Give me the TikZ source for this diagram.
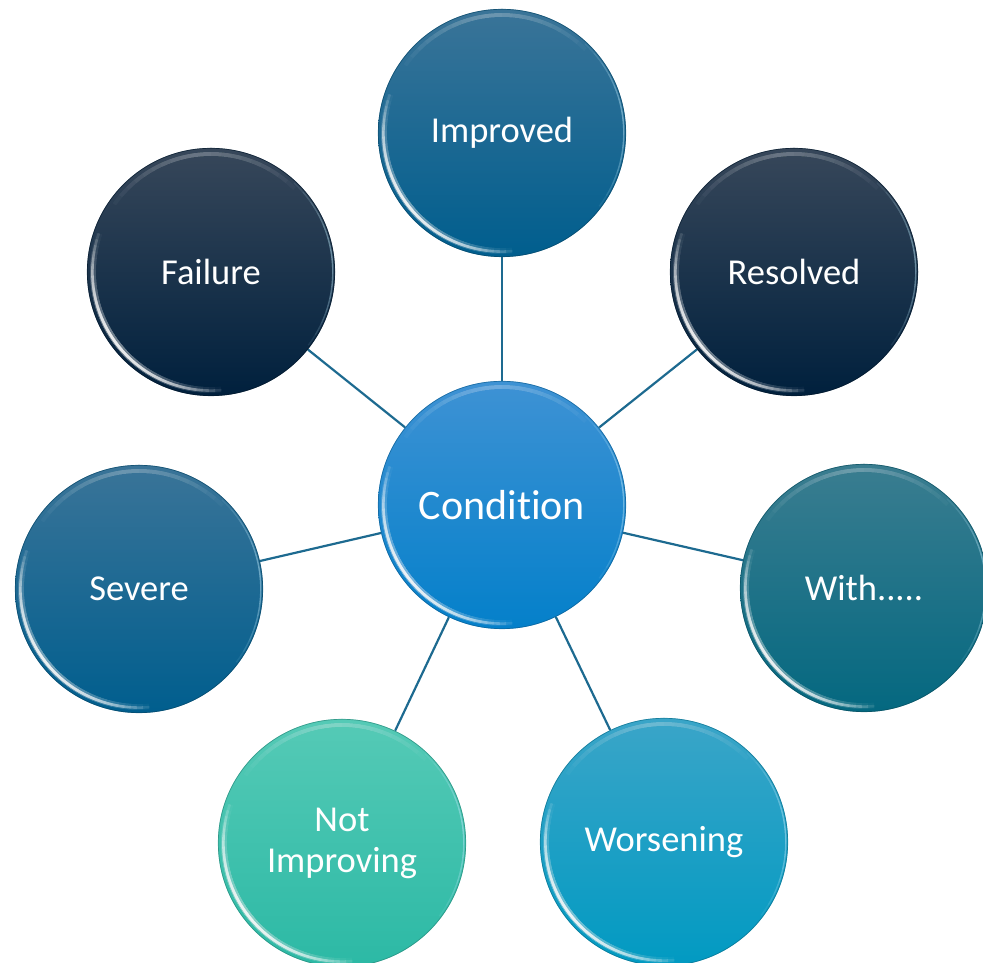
\documentclass[tikz,border=0pt]{standalone}
\usepackage{fontspec}
\setmainfont{Carlito}[Ligatures=NoCommon]
\usetikzlibrary{backgrounds}
\definecolor{connc}{HTML}{1D6A90}
\definecolor{impT}{HTML}{3A7498}\definecolor{impM}{HTML}{0B6593}\definecolor{impB}{HTML}{005E8E}
\definecolor{navT}{HTML}{37475A}\definecolor{navM}{HTML}{06243F}\definecolor{navB}{HTML}{00203D}
\definecolor{witT}{HTML}{3A7D90}\definecolor{witM}{HTML}{0E6F87}\definecolor{witB}{HTML}{046880}
\definecolor{nimT}{HTML}{55CAB6}\definecolor{nimM}{HTML}{3BC4B0}\definecolor{nimB}{HTML}{2CB9A5}
\definecolor{worT}{HTML}{3AA5C8}\definecolor{worM}{HTML}{12A0C8}\definecolor{worB}{HTML}{019AC2}
\definecolor{conT}{HTML}{3E92D4}\definecolor{conM}{HTML}{1588D0}\definecolor{conB}{HTML}{0480CA}
\tikzset{
  bubble/.style={circle, minimum size=248pt, inner sep=0pt, shading=axis, text=white, align=center, font=\fontsize{36.5}{41}\selectfont},
  conn/.style={draw=connc, line width=2.2pt},
}
\newcommand\bub[7]{%
  \node[bubble, top color=#4, middle color=#5, bottom color=#6] (#1) at (#2,#3) {#7};
  \draw[#5!70!black, line width=0.7pt, opacity=0.7] (#1.center) circle (123.7);
  \foreach \s in {3,6,...,57} {
    \draw[white, line width=6pt, opacity=0.03] (#1.center) ++(218-\s:118) arc[start angle=218-\s, end angle=218+\s, radius=118];
    \draw[white, line width=2.6pt, opacity=0.11] (#1.center) ++(218-\s:118.6) arc[start angle=218-\s, end angle=218+\s, radius=118.6];
  }
  \foreach \s in {5,10,...,50} {
    \draw[white, line width=4pt, opacity=0.03] (#1.center) ++(95-\s:118) arc[start angle=95-\s, end angle=95+\s, radius=118];
  }
  \foreach \s in {6,12,...,42} {
    \draw[cyan!25!white, line width=1.4pt, opacity=0.09] (#1.center) ++(5-\s:121.8) arc[start angle=5-\s, end angle=5+\s, radius=121.8];
  }
}
\begin{document}
\begin{tikzpicture}[x=1pt,y=1pt]
\useasboundingbox (0,0) rectangle (983,963);
\bub{imp}{502}{830}{impT}{impM}{impB}{Improved}
\bub{fail}{211}{691}{navT}{navM}{navB}{Failure}
\bub{res}{794}{691}{navT}{navM}{navB}{Resolved}
\bub{sev}{139}{374}{impT}{impM}{impB}{Severe}
\bub{with}{864}{375}{witT}{witM}{witB}{With.....}
\bub{notimp}{342}{120}{nimT}{nimM}{nimB}{Not\\Improving}
\bub{wors}{664}{121}{worT}{worM}{worB}{Worsening}
\bub{cond}{502}{458}{conT}{conM}{conB}{\fontsize{42}{48}\selectfont Condition}
\begin{scope}[on background layer]
\draw[conn] (cond) -- (imp);
\draw[conn] (cond) -- (fail);
\draw[conn] (cond) -- (res);
\draw[conn] (cond) -- (sev);
\draw[conn] (cond) -- (with);
\draw[conn] (cond) -- (notimp);
\draw[conn] (cond) -- (wors);
\end{scope}
\end{tikzpicture}
\end{document}
